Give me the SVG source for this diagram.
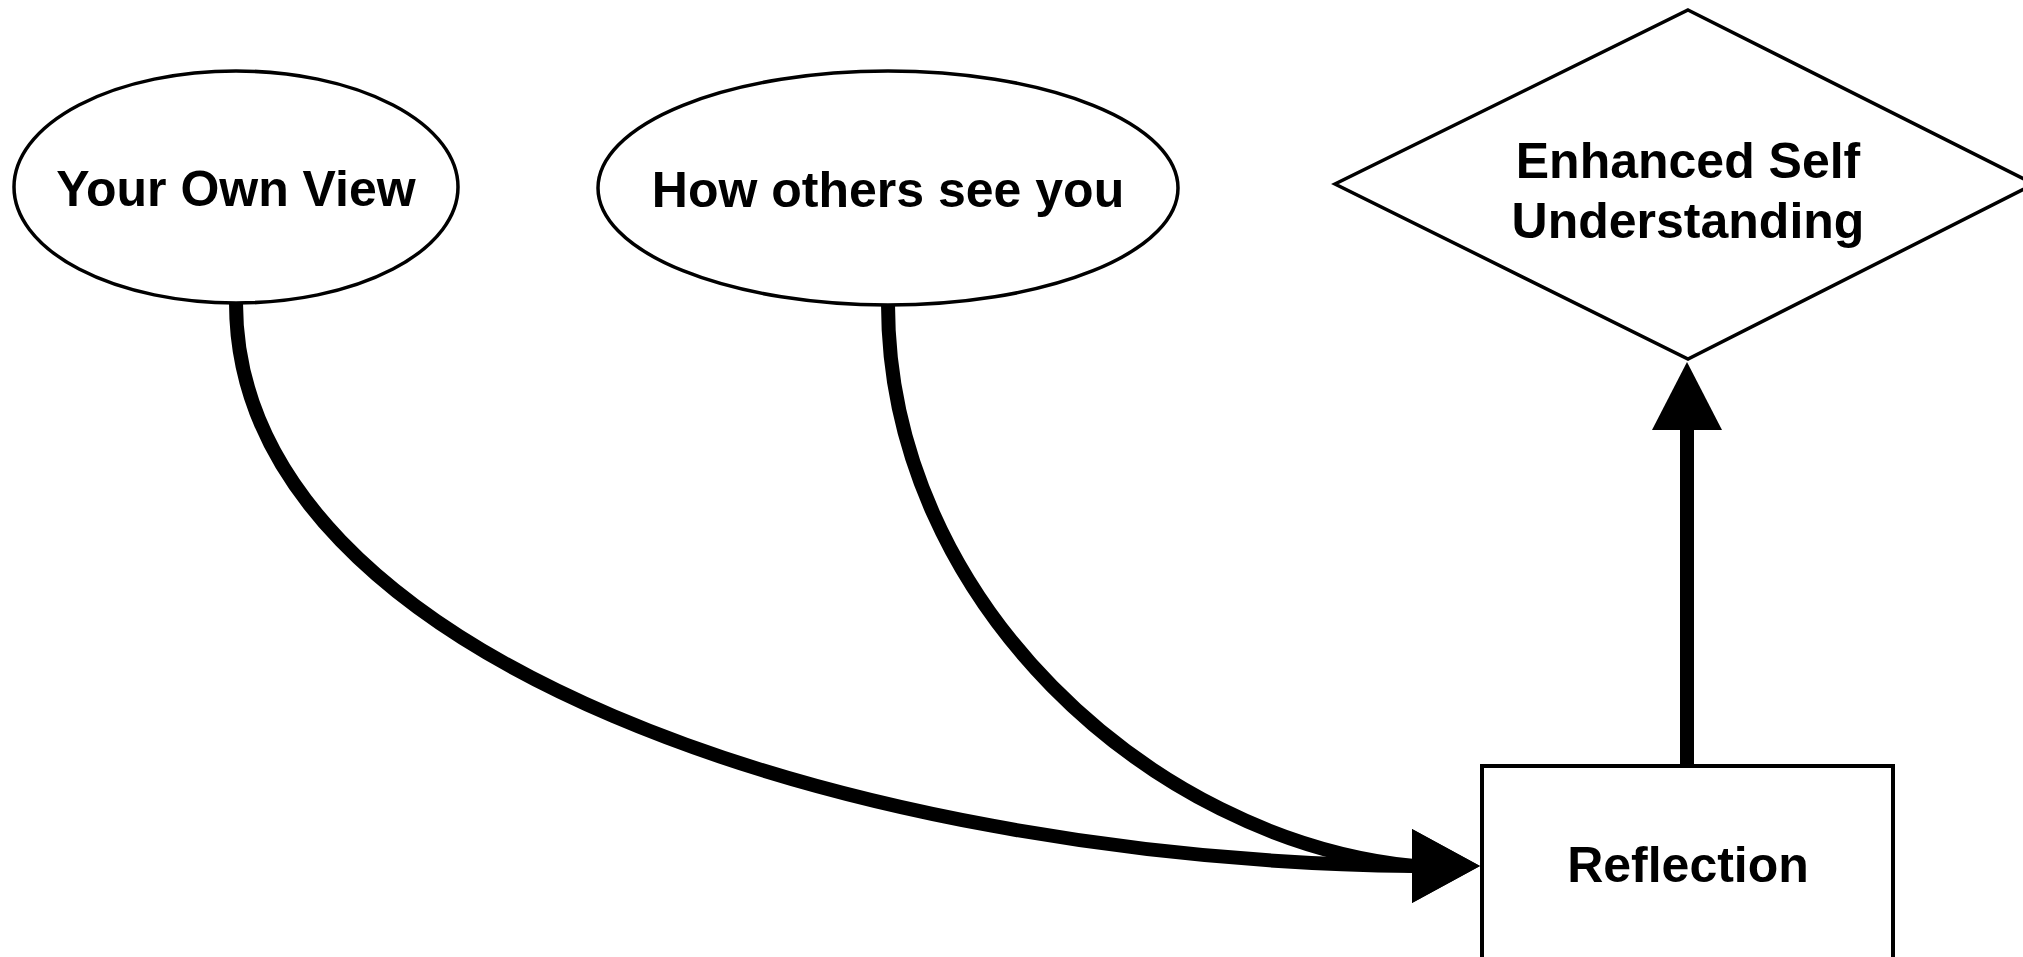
<svg xmlns="http://www.w3.org/2000/svg" width="2023" height="957" viewBox="0 0 2023 957">
  <style>
    .shape { fill: #ffffff; stroke: #000000; stroke-width: 3.5; }
    .box { fill: #ffffff; stroke: #000000; stroke-width: 4; }
    .label { font-family: "Liberation Sans", Arial, sans-serif; font-weight: bold; font-size: 50px; fill: #000000; text-anchor: middle; }
    .edge { fill: none; stroke: #000000; stroke-width: 14; }
  </style>
  <defs>
    <marker id="headRight" markerUnits="userSpaceOnUse" markerWidth="70" markerHeight="74" refX="2" refY="37" orient="0">
      <path d="M0,0 L68,37 L0,74 Z" fill="#000000"/>
    </marker>
    <marker id="headAuto" markerUnits="userSpaceOnUse" markerWidth="70" markerHeight="70" refX="2" refY="35" orient="auto">
      <path d="M0,0 L68,35 L0,70 Z" fill="#000000"/>
    </marker>
  </defs>
  <rect x="0" y="0" width="2023" height="957" fill="#ffffff"/>

  <g id="node-own-view">
    <ellipse class="shape" cx="236" cy="187" rx="222" ry="116"/>
    <text class="label" x="236" y="206">Your Own View</text>
  </g>

  <g id="node-others-view">
    <ellipse class="shape" cx="888" cy="188" rx="290" ry="117"/>
    <text class="label" x="888" y="207">How others see you</text>
  </g>

  <g id="node-enhanced">
    <polygon class="shape" points="1688,10 2034,184 1688,359 1335,184"/>
    <text class="label" x="1688" y="178">Enhanced Self</text>
    <text class="label" x="1688" y="238">Understanding</text>
  </g>

  <g id="node-reflection">
    <rect class="box" x="1482" y="766" width="411" height="300"/>
    <text class="label" x="1688" y="882">Reflection</text>
  </g>

  <g id="connectors">
    <path class="edge" d="M236,303 C236,660 850,860 1414,866" marker-end="url(#headRight)"/>
    <path class="edge" d="M888,304 C888,600 1150,840 1414,866" marker-end="url(#headRight)"/>
    <path class="edge" d="M1687,764 L1687,428" marker-end="url(#headAuto)"/>
  </g>
</svg>
